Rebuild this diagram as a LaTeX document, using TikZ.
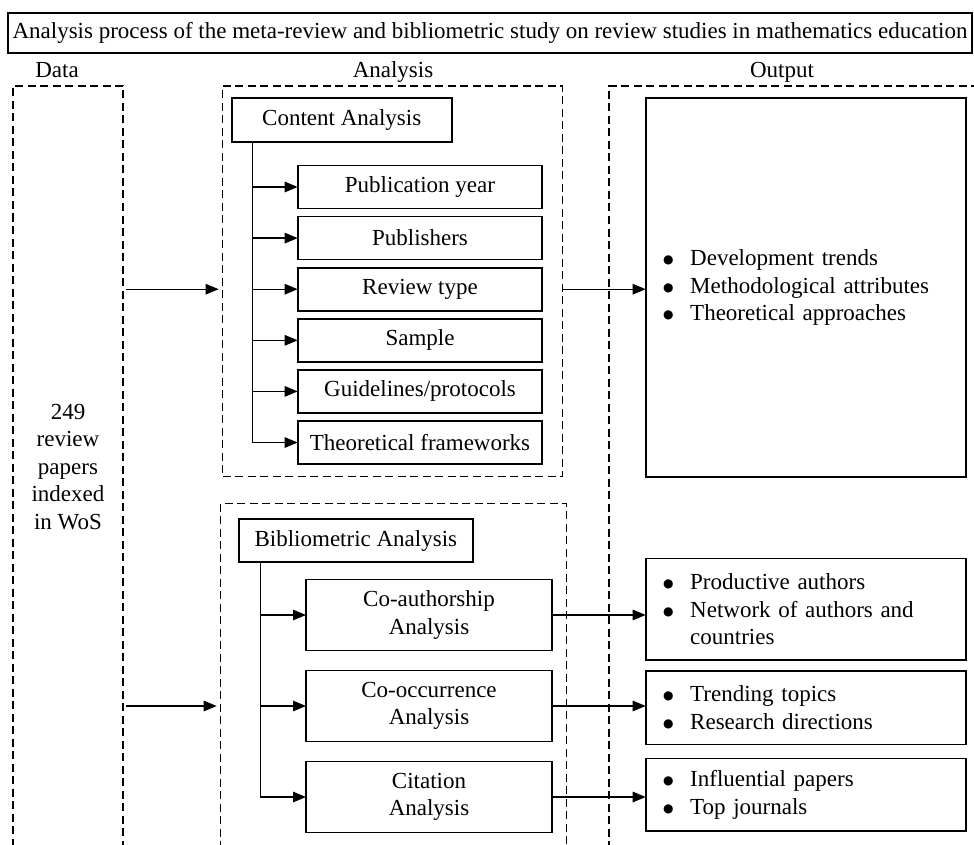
\documentclass[tikz,border=0pt]{standalone}
\usepackage{fontspec}
\setmainfont{Liberation Serif}
\newfontfamily\dotfont{DejaVu Sans}
\usetikzlibrary{arrows.meta,positioning}
\newcommand{\outbullet}{\makebox[27pt][l]{\raisebox{2pt}{\fontsize{12}{12}\dotfont ●}}}

\begin{document}
\begin{tikzpicture}[x=1pt,y=-1pt,font=\fontsize{23}{27.5}\selectfont,
	box/.style={rectangle,draw=black,line width=1.7pt,inner sep=0pt,outer sep=0pt,align=center},
	frame/.style={rectangle,draw=black,line width=1.5pt,dash pattern=on 8pt off 4.5pt,inner sep=0pt,outer sep=0pt,anchor=north west},
	sub/.style={box,minimum width=244.6pt,minimum height=43pt},
	bsub/.style={box,minimum width=246pt,minimum height=71pt},
	outbox/.style={box,text width=285pt,align=left,inner xsep=17.5pt},
	arr/.style={line width=1.3pt,-{Triangle[length=13pt,width=10.5pt]}},
	head/.style={anchor=base}]
\clip (0,0) rectangle (974,845);
\node[box,minimum width=964pt,minimum height=40pt] (title) at (490,33) {Analysis process of the meta-review and bibliometric study on review studies in mathematics education};
\node[frame,minimum width=110pt,minimum height=790pt] (dframe) at (13,86) {};
\node[frame,minimum width=340pt,minimum height=390.7pt] (cframe) at (222.7,86) {};
\node[frame,minimum width=346pt,minimum height=370pt] (bframe) at (220.7,503.3) {};
\node[frame,minimum width=390pt,minimum height=790pt] (oframe) at (609,86) {};
\node[head] (hdata) at (57,78) {Data};
\node[head] (hanalysis) at (393,78) {Analysis};
\node[head] (houtput) at (782,78) {Output};
\node[align=center] (papers) at (68,467) {249\\review\\papers\\indexed\\in WoS};
\node[box,minimum width=220pt,minimum height=43.4pt,anchor=north west] (content) at (231.7,98.3) {Content Analysis};
\node[sub] (pubyear) at (420,187) {Publication year};
\node[sub,below=8.1pt of pubyear] (publishers) {Publishers};
\node[sub,below=8.1pt of publishers] (revtype) {Review type};
\node[sub,below=8.1pt of revtype] (sample) {Sample};
\node[sub,below=8.1pt of sample] (guidelines) {Guidelines/protocols};
\node[sub,below=8.1pt of guidelines] (theory) {Theoretical frameworks};
\coordinate (cspine) at (252.3,141.7);
\foreach \n in {pubyear,publishers,revtype,sample,guidelines,theory}
	\draw[arr] (cspine) |- (\n.west);
\node[box,minimum width=233.7pt,minimum height=42.7pt,anchor=north west] (biblio) at (239,519.3) {Bibliometric Analysis};
\node[bsub] (coauth) at (429,615) {Co-authorship\\Analysis};
\node[bsub,below=20pt of coauth] (cooc) {Co-occurrence\\Analysis};
\node[bsub,below=20pt of cooc] (citation) {Citation\\Analysis};
\coordinate (bspine) at (260.7,562);
\foreach \n in {coauth,cooc,citation}
	\draw[arr] (bspine) |- (\n.west);
\node[outbox,minimum height=378.4pt] (trends) at (805.7,287.5) {\outbullet Development trends\\\outbullet Methodological attributes\\\outbullet Theoretical approaches};
\node[outbox,minimum height=101.7pt] (authors) at (805.7,609.2) {\outbullet Productive authors\\\outbullet Network of authors and\\\hspace*{27pt}countries};
\node[outbox,minimum height=73.3pt] (topics) at (805.7,707.7) {\outbullet Trending topics\\\outbullet Research directions};
\node[outbox,minimum height=72.7pt] (influence) at (805.7,794.7) {\outbullet Influential papers\\\outbullet Top journals};
\draw[arr,shorten <=3pt,shorten >=4pt] (revtype.west -| dframe.east) -- (revtype.west -| cframe.west);
\draw[arr] (revtype.east -| cframe.east) -- (revtype.east -| trends.west);
\draw[arr,shorten <=3pt,shorten >=4pt] (cooc.west -| dframe.east) -- (cooc.west -| bframe.west);
\foreach \n/\m in {coauth/authors,cooc/topics,citation/influence}
	\draw[arr] (\n.east) -- (\n.east -| \m.west);
\end{tikzpicture}
\end{document}
